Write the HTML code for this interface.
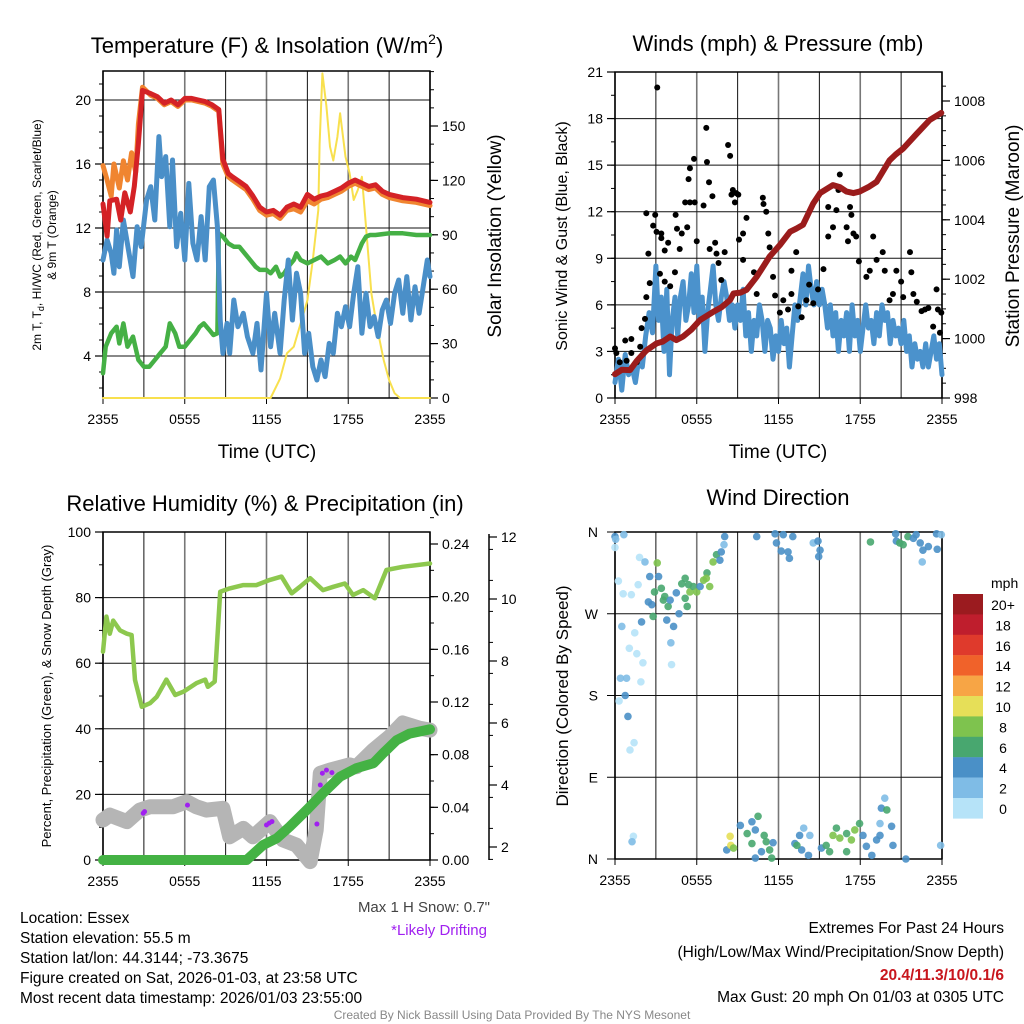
<!DOCTYPE html>
<html><head><meta charset="utf-8">
<style>
html,body{margin:0;padding:0;background:#fff;}
svg{display:block;font-family:"Liberation Sans",Arial,sans-serif;}
</style></head>
<body>
<svg id="chart" width="1024" height="1024" viewBox="0 0 1024 1024" xmlns="http://www.w3.org/2000/svg">
<rect width="1024" height="1024" fill="#fff"/>
<g id="layer"></g>
<!-- titles -->
<text x="267" y="53" font-size="22" text-anchor="middle">Temperature (F) &amp; Insolation (W/m<tspan font-size="14" dy="-9">2</tspan><tspan dy="9">)</tspan></text>
<text x="778" y="51" font-size="22" text-anchor="middle">Winds (mph) &amp; Pressure (mb)</text>
<text x="265" y="511" font-size="22" text-anchor="middle">Relative Humidity (%) &amp; Precipitation (in)</text>
<text x="778" y="505" font-size="22" text-anchor="middle">Wind Direction</text>
<text x="267" y="458" font-size="19" text-anchor="middle">Time (UTC)</text>
<text x="778" y="458" font-size="19" text-anchor="middle">Time (UTC)</text>
<text transform="translate(41,235) rotate(-90)" font-size="12" text-anchor="middle">2m T, T<tspan font-size="9" dy="3">d</tspan><tspan dy="-3">, HI/WC (Red, Green, Scarlet/Blue)</tspan></text>
<text transform="translate(56,235) rotate(-90)" font-size="12" text-anchor="middle">&amp; 9m T (Orange)</text>
<text transform="translate(501,236) rotate(-90)" font-size="19" text-anchor="middle">Solar Insolation (Yellow)</text>
<text transform="translate(567,236) rotate(-90)" font-size="16" text-anchor="middle">Sonic Wind &amp; Gust (Blue, Black)</text>
<text transform="translate(1019,236) rotate(-90)" font-size="19" text-anchor="middle">Station Pressure (Maroon)</text>
<text transform="translate(51,696) rotate(-90)" font-size="13" text-anchor="middle">Percent, Precipitation (Green), &amp; Snow Depth (Gray)</text>
<text transform="translate(568,696) rotate(-90)" font-size="17" text-anchor="middle">Direction (Colored By Speed)</text>
<!-- bottom text -->
<text x="490" y="912" font-size="15" fill="#444" text-anchor="end">Max 1 H Snow: 0.7"</text>
<text x="487" y="935" font-size="15" fill="#a020f0" text-anchor="end">*Likely Drifting</text>
<g font-size="15.5">
<text x="20" y="923">Location: Essex</text>
<text x="20" y="943">Station elevation: 55.5 m</text>
<text x="20" y="963">Station lat/lon: 44.3144; -73.3675</text>
<text x="20" y="983">Figure created on Sat, 2026-01-03, at 23:58 UTC</text>
<text x="20" y="1003">Most recent data timestamp: 2026/01/03 23:55:00</text>
</g>
<g font-size="15.5" text-anchor="end">
<text x="1004" y="933">Extremes For Past 24 Hours</text>
<text x="1004" y="957">(High/Low/Max Wind/Precipitation/Snow Depth)</text>
<text x="1004" y="980" fill="#c8161d" font-weight="bold">20.4/11.3/10/0.1/6</text>
<text x="1004" y="1002">Max Gust: 20 mph On 01/03 at 0305 UTC</text>
</g>
<text x="512" y="1019" font-size="12" fill="#888" text-anchor="middle">Created By Nick Bassill Using Data Provided By The NYS Mesonet</text>
</svg>
<script>
// ---------- DATA ----------
const xTickLabels = ["2355","0555","1155","1755","2355"];
// Panel 1: temperature (F) and solar (W/m2)
const redHours = [0,0.3,0.5,1,1.3,1.6,2,2.3,2.6,2.9,3.5,4,4.5,5,5.5,6,6.5,7,7.5,8,8.5,8.6,8.8,9.2,9.5,10,10.5,11,11.5,12,12.5,13,13.5,14,14.5,15,15.5,16,16.5,17,17.5,18,18.5,19,19.5,20,20.5,21,22,23,24];
const redTemp = [13.5,11.5,13.7,13.8,12.5,14.2,13.0,14.6,17.3,20.6,20.4,20.2,19.8,20.0,19.7,20.1,20.1,20.0,19.9,19.7,19.4,18.3,16.3,15.4,15.2,14.9,14.6,14.0,13.3,13.0,13.1,12.8,13.3,13.5,13.3,14.1,13.8,14.0,14.1,14.3,14.5,14.8,15.0,14.8,14.6,14.7,14.3,14.1,13.9,13.8,13.6];
const orangeHours = [0,0.3,0.6,0.8,1.2,1.5,1.8,2.1,2.4,2.6,2.9,3.5,4,4.5,5,5.5,6,6.5,7,7.5,8,8.5,8.6,8.8,9.2,9.5,10,10.5,11,11.5,12,12.5,13,13.5,14,14.5,15,15.5,16,16.5,17,17.5,18,18.5,19,19.5,20,20.5,21,22,23,24];
const orangeTemp = [15.9,15.0,14.0,16.0,14.5,16.2,15.0,16.7,15.5,18.5,20.8,20.3,20.1,19.7,19.9,19.6,20.0,20.0,19.9,19.8,19.6,19.3,18.1,16.0,15.2,15.0,14.7,14.4,13.8,13.1,12.8,12.9,12.6,13.1,13.2,13.0,13.7,13.5,13.8,13.9,14.1,14.3,14.6,14.8,14.6,14.4,14.5,14.1,13.9,13.7,13.6,13.4];
const blueHours = [0,0.3,0.6,0.8,1.0,1.2,1.5,2.2,2.5,2.8,3.2,3.5,3.8,4.1,4.3,4.6,4.9,5.1,5.4,5.7,6.0,6.3,6.6,6.9,7.2,7.5,7.8,8.1,8.4,8.6,8.8,9.1,9.3,9.6,9.9,10.3,10.6,11.0,11.3,11.6,12.0,12.3,12.6,13.0,13.3,13.6,13.9,14.2,14.5,14.8,15.1,15.4,15.7,16.0,16.3,16.6,16.9,17.2,17.5,17.8,18.1,18.4,18.7,19.0,19.3,19.6,19.9,20.2,20.5,20.8,21.1,21.4,21.7,22.0,22.3,22.6,22.9,23.2,23.5,23.8,24];
const blueTemp = [10.0,11.25,10.42,9.17,11.88,9.58,12.5,8.96,12.08,10.83,13.75,14.58,12.5,17.71,15.21,16.46,12.08,16.25,10.83,12.92,10.0,14.79,11.04,10.0,12.71,10.0,14.58,15.0,12.08,6.25,4.17,6.04,4.17,7.5,5.83,6.67,5.21,4.17,6.04,3.13,7.92,4.58,6.67,4.17,7.5,10.0,6.25,9.17,7.92,4.17,5.42,3.33,2.5,3.75,2.71,4.79,4.17,6.67,5.83,7.08,5.83,7.92,9.58,5.42,7.92,5.83,6.46,5.21,6.88,7.5,6.04,7.92,8.75,6.67,8.96,6.25,8.33,6.67,8.33,10.0,8.96];
const dewHours = [0,0.2,0.6,1.0,1.2,1.5,1.8,2.2,2.6,3.0,3.4,3.8,4.2,4.6,4.9,5.3,5.6,6.0,6.4,6.8,7.1,7.4,7.8,8.1,8.4,8.5,8.8,9.2,9.6,10.0,10.4,10.8,11.2,11.5,12.0,12.3,12.7,13.0,13.3,13.6,14.0,14.2,14.5,15.0,15.5,16.0,16.5,17.0,17.4,17.8,18.2,18.5,19.0,19.3,19.6,20,21,22,23,24];
const dewTemp = [2.92,4.58,5.42,5.83,4.79,6.04,4.58,5.21,3.75,3.33,3.33,3.75,4.17,4.58,6.04,5.42,4.58,4.58,5.0,5.42,5.83,6.04,5.63,5.31,5.42,11.67,11.46,11.04,10.83,10.83,10.42,10.0,9.58,9.38,9.38,9.17,9.58,8.96,9.17,9.58,10.0,10.42,10.0,9.79,10.0,10.21,9.79,10.0,10.21,9.79,10.21,10.0,11.04,11.46,11.56,11.56,11.67,11.67,11.56,11.56];
const solarHours = [0,12.3,13.0,13.5,14.0,14.5,15.0,15.4,15.8,15.9,16.1,16.4,16.66,16.9,17.2,17.4,17.8,18.1,18.4,18.7,19.0,19.3,19.7,20.1,20.6,21.0,21.4,21.8,24];
const solarW = [0,0,10.7,24.6,28.3,41.1,53.9,76,103.6,140,179,161,138.6,131,144,157,133,124,109.2,114.7,122,94.5,57.7,39.3,20.9,9.9,2.6,0,0];
const tempTicks = [4,8,12,16,20];
const solarTicks = [0,30,60,90,120,150];
// Panel 2: wind (mph), gust, pressure (mb)
const windHours = [0,0.25,0.5,0.75,1.0,1.25,1.5,1.75,2.0,2.25,2.5,2.75,3.0,3.2,3.4,3.6,3.8,4.0,4.2,4.4,4.6,4.8,5.0,5.2,5.4,5.6,5.8,6.0,6.2,6.4,6.6,6.8,7.0,7.2,7.4,7.6,7.8,8.0,8.2,8.4,8.6,8.8,9.0,9.2,9.4,9.6,9.8,10.0,10.2,10.4,10.6,10.8,11.0,11.2,11.4,11.6,11.8,12.0,12.2,12.4,12.6,12.8,13.0,13.2,13.4,13.6,13.8,14.0,14.2,14.4,14.6,14.8,15.0,15.2,15.4,15.6,15.8,16.0,16.2,16.4,16.6,16.8,17.0,17.2,17.4,17.6,17.8,18.0,18.2,18.4,18.6,18.8,19.0,19.2,19.4,19.6,19.8,20.0,20.2,20.4,20.6,20.8,21.0,21.2,21.4,21.6,21.8,22.0,22.2,22.4,22.6,22.8,23.0,23.2,23.4,23.6,23.8,24];
const windMph = [1,2.5,0.5,2.8,1.5,2.0,1.0,2.5,2.0,4.0,5.5,4.2,8.5,5,6.5,3.0,7,1.5,5,6.5,4,6.5,7.5,5,6,8,5.5,8.5,5,6.5,3,5.5,7,8.5,6,5,6.5,7.5,6.5,5,6,4.5,6,5,7,4,5.5,3,5,4,6,5,3,5,4.5,2.5,4,3,5,3.5,4.5,2,4,6,5,6.5,8,6,8.5,7,6,7.5,6,7,6,4.5,6,4,5.5,3,5,4,5.5,3,6,4,5,3,4.5,6,4.5,5,3.5,5.5,4,6,5,5.5,3.5,5,4,4.5,3.5,5,3,4,2,3.5,2.5,3,2,3.5,2,3,4,2.5,3.5,1.5];
const gustHours = [0,0.1,0.35,0.75,1.2,1.85,1.2,0.85,1.6,1.95,2.2,2.3,2.45,2.55,2.3,2.95,2.8,3.05,3.1,3.4,3.4,3.65,3.9,3.3,3.65,4.05,4.4,4.45,4.55,4.9,4.75,5.15,5.3,5.4,5.5,5.8,5.5,5.85,6.0,6.5,6.7,6.75,6.9,7.15,6.95,7.35,7.45,7.6,7.8,8.05,8.3,8.45,8.55,8.65,8.8,8.9,9.05,9.1,9.4,9.4,9.65,10.2,10.4,10.85,10.9,11.1,11.25,11.35,11.6,11.75,12.1,12.35,12.7,12.95,12.95,13.3,13.45,13.7,14.05,14.25,14.55,14.9,15.3,15.65,15.65,16.0,16.25,16.5,16.4,17.0,17.1,17.25,17.35,17.5,17.7,17.9,18.45,18.7,18.95,19.2,19.65,19.8,20.15,20.4,20.65,21.0,21.15,21.65,21.75,21.9,22.15,22.5,22.75,23.0,23.35,23.6,23.7,23.95,23.85];
const gustMph = [3.2,2.9,2.3,3.7,3.8,3.3,2.9,2.4,2.3,4.5,5.1,6.5,9.3,7.4,11.9,11.8,11.1,10.7,20.0,10.6,10.3,9.5,10.0,8.0,7.5,7.2,8.1,11.8,10.9,10.6,9.6,12.6,11.0,14.1,14.8,15.4,12.6,12.6,10.1,12.4,17.4,15.2,13.9,13.0,9.6,10.0,9.3,8.7,7.6,9.4,16.3,15.6,13.1,13.4,12.6,13.2,13.1,10.2,10.6,8.9,11.6,8.1,6.7,12.9,12.5,12.0,10.6,9.7,7.8,6.6,5.5,6.3,5.7,8.2,6.7,9.4,5.9,5.2,6.3,7.3,6.1,7.0,8.3,12.3,10.4,11.0,12.1,14.4,13.4,11.0,10.1,12.3,11.8,10.6,10.4,8.8,7.8,8.2,10.4,8.9,9.4,8.2,6.3,6.7,8.2,7.5,6.5,9.4,8.1,6.7,6.2,5.6,5.7,5.8,4.6,7.0,5.7,5.5,4.2];
const presHours = [0,0.5,1.1,1.6,2.3,3.05,3.5,4.05,4.5,5.0,5.6,6.25,7.2,7.8,8.45,8.7,9.2,9.65,10.4,11.35,12.1,12.85,13.3,13.8,14.55,15.05,16.0,16.5,17.0,17.5,17.95,18.6,19.2,20.15,20.6,21.15,22.15,23.1,23.95];
const presMb = [998.8,998.95,998.94,999.25,999.6,999.84,999.9,1000.07,999.95,1000.07,1000.3,1000.63,1000.9,1001.05,1001.3,1001.52,1001.55,1001.64,1002.08,1002.76,1003.15,1003.6,1003.7,1003.83,1004.55,1004.9,1005.17,1005.1,1004.95,1004.9,1004.95,1005.1,1005.28,1006.0,1006.2,1006.4,1006.9,1007.36,1007.6];
const windTicks = [0,3,6,9,12,15,18,21];
const presTicks = [998,1000,1002,1004,1006,1008];
// Panel 3: RH %, precip (in), snow depth (in)
const rhHours = [0,0.25,0.5,0.75,1.25,1.75,2.1,2.35,2.85,3.45,3.95,4.65,5.3,5.9,6.85,7.5,7.7,8.2,8.6,9.3,10.3,11.25,12.25,13.1,13.85,14.45,15.2,16.15,16.9,17.75,18.35,19.1,19.95,20.8,22.0,24];
const rhPct = [63.5,74.2,69,73,70,69,68.6,54.9,46.7,47.8,49.8,55,50.3,51.3,53.9,55,52.8,54.4,81.8,82.8,83.8,83.8,85.4,86.4,81.3,83.3,85.9,82.3,83.3,84.3,80.8,82.3,79.8,88.4,89.4,90.4];
const precipHours = [0,10.55,11.75,12.75,13.7,14.95,16.15,17.4,18.6,19.85,20.55,21.55,22.5,24];
const precipIn = [0,0,0.0114,0.0165,0.0253,0.038,0.0507,0.0633,0.0697,0.0735,0.081,0.091,0.096,0.0993];
const snowHours = [0,0.5,1.75,2.7,3.45,5.15,6.15,6.85,7.6,8.8,9.3,10.3,11.0,12.25,13.2,14.2,15.2,15.65,15.95,16.65,18.1,18.6,19.85,21.05,22.0,23.25,24];
const snowIn = [2.87,3.03,2.82,3.19,3.3,3.3,3.46,3.3,3.19,3.25,2.33,2.6,2.33,2.82,2.23,2.06,1.53,2.55,4.38,4.48,4.65,4.59,5.13,5.56,6.0,5.83,5.77];
const driftHours = [2.95,3.05,6.2,12.0,12.2,12.4,15.7,15.95,16.1,16.4,16.8];
const driftIn = [3.09,3.14,3.35,2.71,2.77,2.82,2.74,4.0,4.38,4.48,4.4];
const rhTicks = [0,20,40,60,80,100];
const precipTicks = [0,0.04,0.08,0.12,0.16,0.20,0.24];
const snowTicks = [2,4,6,8,10,12];
// Panel 4: wind direction (deg) colored by speed (mph)
const dirHours = [0,0.05,0.65,0,1.8,2.2,3.1,0.25,0.6,1.2,1.7,2.55,3.2,2.9,3.4,3.65,2.45,2.7,2.8,3.8,3.55,3.9,4.05,4.3,4.7,4.5,4.9,5.15,5.4,5.15,5.3,5.5,5.75,6.0,6.25,6.5,6.75,6.95,6.7,7.2,7.45,7.7,7.8,8.0,8.05,1.95,1.45,0.5,1.05,1.6,2.05,4.1,4.15,1.9,0.4,0.85,0.75,0.3,0.95,1.4,1.1,1.35,1.25,10.4,11.75,12.35,13.05,11.85,12.2,12.7,12.8,14.55,14.9,15.05,14.95,18.75,20.6,20.65,21.15,21.5,21.9,22.4,23.0,22.6,23.6,23.65,23.95,22.55,22.1,20.9,8.2,8.45,8.5,8.7,9.2,9.7,10.05,10.3,10.5,10.05,10.75,11.1,11.35,11.6,10.95,10.3,11.5,13.2,13.55,13.85,14.3,14.2,13.7,13.35,15.15,15.5,15.75,16.0,16.25,16.5,17.0,17.0,17.35,17.6,17.95,18.2,18.45,18.85,19.2,19.45,19.55,19.8,19.95,19.45,20.3,20.4,21.35,23.9];
const dirDeg = [355,352,357,343,332,327,326,306,292,291,302,311,311,294,298,289,283,280,267,263,285,278,285,256,270,293,303,309,302,287,278,294,300,294,300,307,315,300,309,327,335,329,338,346,355,261,249,256,232,226,216,238,214,195,199,199,180,174,157,128,120,25,19,355,358,357,355,348,339,338,331,348,350,340,333,349,358,350,346,355,353,348,344,340,358,341,357,327,357,348,10,25,15,12,37,28,41,32,47,17,8,19,10,18,26,1,1,17,26,34,26,4,10,15,12,15,8,26,34,23,28,8,21,32,39,26,14,4,21,26,56,67,54,39,36,15,0,15];
const dirSpeed = [4,3,2.5,1,1,3,8.5,1,1,1,1,5,5,6,6.5,6.5,4.5,4.5,6.5,4.5,6.5,6.5,5,4,4.5,5,6,6,6,6,6.5,8,6,8,5,8.5,6.5,8.5,8,8,6,5,5,3,5,4,1,3,1,1,1,3,1,1,3,3,4,1,4,1,1,1,3,4,4,4,4,4,4,4,4,3,4,4,4,6,4,4,6.5,6,5,4,4,4,4,4,3,3,4,7,4,10,10,8,4,7,4,4,6,6,4,6,6,4,6,4,6,4,4,3,3,4,4,6,4,6,6,8,6,8,6,6,8,8,6,4,4,4,4,4,4,3,6,3,4,4,4,3];
const dirLabels = ["N","W","S","E","N"];
const dirTicks = [360,270,180,90,0];
const speedBins = ["20+","18","16","14","12","10","8","6","4","2","0"];
const speedColors = ["#9b1b1f","#bf1e2d","#df3a2c","#f0622a","#f7a545","#e6df58","#7ec34e","#48a76f","#4a90c7","#7fbce6","#b6e3f8"];

// ---------- DRAW ----------
const NS="http://www.w3.org/2000/svg";
const layer=document.getElementById('layer');
function mk(tag,attrs,parent){const e=document.createElementNS(NS,tag);for(const k in attrs)e.setAttribute(k,attrs[k]);(parent||layer).appendChild(e);return e;}
function lin(d0,d1,r0,r1){return v=>r0+(v-d0)*(r1-r0)/(d1-d0);}
function pathD(xs,ys,fx,fy){return xs.map((h,i)=>(i?'L':'M')+fx(h).toFixed(1)+','+fy(ys[i]).toFixed(1)).join('');}

function frame(p,name){
  const g=mk('g',{});
  
  
  for(let i=0;i<=8;i++){const x=p.x0+(p.x1-p.x0)*i/8;
    mk('line',{x1:x,x2:x,y1:p.y0,y2:p.y1,stroke:i%2==0?'#777':'#111','stroke-width':i%2==0?1.6:1},g);}
  p.hgrid.forEach(y=>{mk('line',{x1:p.x0,x2:p.x1,y1:y,y2:y,stroke:'#111','stroke-width':1},g);});
  const xl=mk('g',{'font-size':14,'text-anchor':'middle'});
  
  
  xTickLabels.forEach((t,i)=>{const x=p.x0+(p.x1-p.x0)*i/4;
    mk('line',{x1:x,x2:x,y1:p.y1,y2:p.y1+6,stroke:'#000'},g);
    const tx=mk('text',{x:x,y:p.y1+26},xl);tx.textContent=t;});
  const b=mk('rect',{x:p.x0,y:p.y0,width:p.x1-p.x0,height:p.y1-p.y0,fill:'none',stroke:'#000','stroke-width':1.5});
  
  
}
function yAxis(x,ticks,fy,side,fmt,name,minor){
  const g=mk('g',{'font-size':14,'text-anchor':side<0?'end':'start'});
  
  
  if(minor) minor.forEach(v=>mk('line',{x1:x,x2:x+side*4,y1:fy(v),y2:fy(v),stroke:'#000'},g));
  ticks.forEach(v=>{const y=fy(v);mk('line',{x1:x,x2:x+side*8,y1:y,y2:y,stroke:'#000','stroke-width':1.2},g);
    const t=mk('text',{x:x+side*12,y:y+5},g);t.textContent=fmt(v);});
}
function line(xs,ys,fx,fy,color,w,name){
  const p=mk('path',{d:pathD(xs,ys,fx,fy),fill:'none',stroke:color,'stroke-width':w,'stroke-linejoin':'round','stroke-linecap':'round'});
  
  
}
function range(a,b,s){const r=[];for(let v=a;v<=b+1e-9;v+=s)r.push(+v.toFixed(4));return r;}

// Panel 1
const P1={x0:103,x1:430,y0:71,y1:398};
const h1=lin(0,24,P1.x0,P1.x1), fT=lin(20,4,100,356), fS=lin(0,150,398,126);
P1.hgrid=tempTicks.map(fT);
frame(P1,'temperature');
yAxis(P1.x0,tempTicks,fT,-1,v=>v,'temp-y-axis',range(2,21,1));
yAxis(P1.x1,solarTicks,fS,1,v=>v,'solar-y-axis',range(0,180,10));
line(solarHours,solarW,h1,fS,'#f8e04e',2,'solar-insolation-line');
line(dewHours,dewTemp,h1,fT,'#45b045',4.5,'dewpoint-line');
line(blueHours,blueTemp,h1,fT,'#4a8fc8',5,'windchill-line');
line(orangeHours,orangeTemp,h1,fT,'#f08530',5,'temp-9m-line');
line(redHours,redTemp,h1,fT,'#d42226',5,'temp-2m-line');

// Panel 2
const P2={x0:615,x1:942,y0:72,y1:398};
const h2=lin(0,24,P2.x0,P2.x1), fW=lin(0,21,398,72), fP=lin(998,1008,398,101);
P2.hgrid=windTicks.map(fW);
frame(P2,'wind');
yAxis(P2.x0,windTicks,fW,-1,v=>v,'wind-y-axis',range(0,21,1.5));
yAxis(P2.x1,presTicks,fP,1,v=>v,'pressure-y-axis',range(998,1008.8,0.5));
line(windHours,windMph,h2,fW,'#4b92cc',5,'sonic-wind-line');
const gg=mk('g',{});


gustHours.forEach((h,i)=>{const c=mk('circle',{cx:h2(h),cy:fW(gustMph[i]),r:3,fill:'#000'},gg);
  
  });
line(presHours,presMb,h2,fP,'#9b1c1c',6,'pressure-line');

// Panel 3
const P3={x0:103,x1:430,y0:532,y1:860};
const h3=lin(0,24,P3.x0,P3.x1), fR=lin(0,100,860,532), fPr=lin(0,0.24,860,544), fSn=lin(2,12,847,537);
P3.hgrid=rhTicks.map(fR);
frame(P3,'humidity');
yAxis(P3.x0,rhTicks,fR,-1,v=>v,'rh-y-axis',range(0,100,10));
yAxis(P3.x1,precipTicks,fPr,1,v=>v.toFixed(2),'precip-y-axis',range(0,0.26,0.02));
mk('line',{x1:489,x2:489,y1:534,y2:860,stroke:'#000','stroke-width':1.5});
yAxis(489,snowTicks,fSn,1,v=>v,'snow-y-axis',range(1.6,12.4,1));
line(rhHours,rhPct,h3,fR,'#8dc84e',4.5,'relative-humidity-line');
line(snowHours,snowIn,h3,fSn,'#b5b5b5',15,'snow-depth-line');
line(precipHours,precipIn,h3,fPr,'#44b244',10,'precipitation-line');
const dg=mk('g',{});


driftHours.forEach((h,i)=>{const c=mk('circle',{cx:h3(h),cy:fSn(driftIn[i]),r:2.5,fill:'#a020f0'},dg);
  
  });

// Panel 4
const P4={x0:615,x1:942,y0:532,y1:859};
const h4=lin(0,24,P4.x0,P4.x1), fD=lin(0,360,859,532);
P4.hgrid=dirTicks.map(fD);
frame(P4,'direction');
const dl=mk('g',{'font-size':14,'text-anchor':'end'});


dirTicks.forEach((d,i)=>{const y=fD(d);mk('line',{x1:P4.x0-8,x2:P4.x0,y1:y,y2:y,stroke:'#000'},dl);
  const t=mk('text',{x:P4.x0-17,y:y+5},dl);t.textContent=dirLabels[i];});
function speedColor(s){let k=Math.min(10,Math.floor(s/2));return speedColors[10-k];}
const wg=mk('g',{});


dirHours.forEach((h,i)=>{const c=mk('circle',{cx:h4(h),cy:fD(dirDeg[i]),r:3.8,fill:speedColor(dirSpeed[i]),'fill-opacity':0.9},wg);
  
  });
// colorbar
const cb=mk('g',{'font-size':14});


const ct=mk('text',{x:991,y:588},cb);ct.textContent='mph';
speedBins.forEach((lab,i)=>{const y=594+i*20.4;
  const r=mk('rect',{x:953,y:y,width:30,height:20.6,fill:speedColors[i]},cb);
  
  
  const t=mk('text',{x:1003,y:y+16,'text-anchor':'middle'},cb);t.textContent=lab;});
</script>
</body></html>
